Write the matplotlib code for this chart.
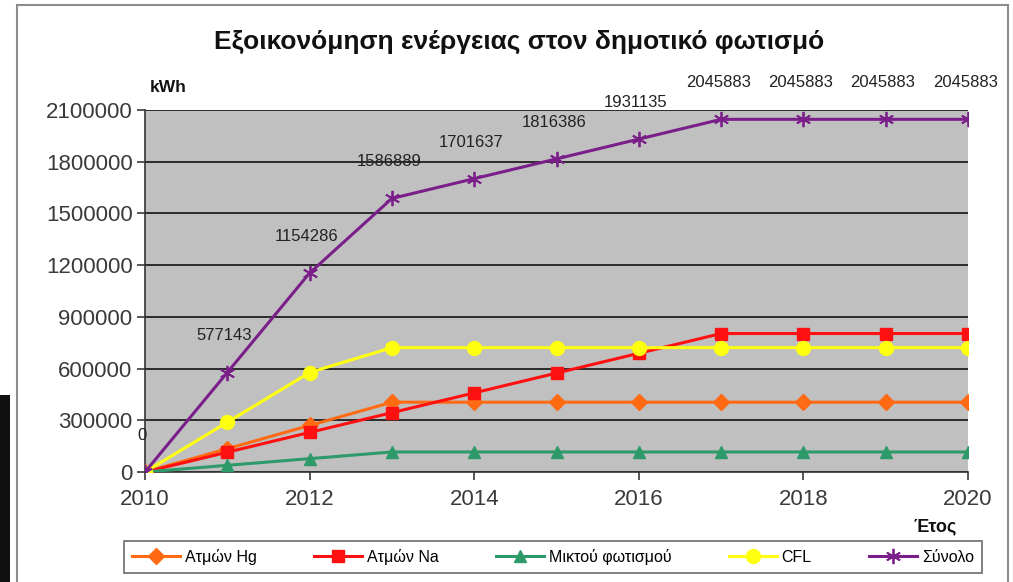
import matplotlib
matplotlib.use("Agg")
import matplotlib.pyplot as plt
from matplotlib.patches import Rectangle

plt.rcParams['font.family'] = ['Liberation Sans', 'DejaVu Sans']

years = [2010, 2011, 2012, 2013, 2014, 2015, 2016, 2017, 2018, 2019, 2020]
hg = [0, 135000, 270000, 405000, 405000, 405000, 405000, 405000, 405000, 405000, 405000]
na = [0, 114749, 229497, 344246, 458995, 573743, 688492, 803240, 803240, 803240, 803240]
mixed = [0, 38700, 77400, 116214, 116214, 116214, 116214, 116214, 116214, 116214, 116214]
cfl = [0, 288571, 577143, 721429, 721429, 721429, 721429, 721429, 721429, 721429, 721429]
total = [0, 577143, 1154286, 1586889, 1701637, 1816386, 1931135, 2045883, 2045883, 2045883, 2045883]
names = ["Ατμών Hg", "Ατμών Na", "Μικτού φωτισμού", "CFL", "Σύνολο"]
yticks = [0, 300000, 600000, 900000, 1200000, 1500000, 1800000, 2100000]
xticks = [2010, 2012, 2014, 2016, 2018, 2020]

fig = plt.figure(figsize=(10.13, 5.82), dpi=100)
fig.patch.set_facecolor('white')

# outer frame and the dark strip on the left
fig.patches.append(Rectangle((17/1013, -0.01), 991/1013, 1 - 5/582 + 0.01, transform=fig.transFigure,
                             fill=False, edgecolor='#8c8c8c', linewidth=1.5))
fig.patches.append(Rectangle((0, 0), 10/1013, 187/582, transform=fig.transFigure,
                             facecolor='#111111', edgecolor='none'))

ax = fig.add_axes([145/1013, 110/582, 823/1013, 362/582])
ax.set_facecolor('#c0c0c0')

ax.plot(years, hg, color='#ff6a13', lw=2.2, marker='D', ms=8, label=names[0], zorder=3)
ax.plot(years, na, color='#ff1010', lw=2.2, marker='s', ms=8.5, label=names[1], zorder=3)
ax.plot(years, mixed, color='#2e9a6a', lw=2.2, marker='^', ms=8.5, label=names[2], zorder=3)
ax.plot(years, cfl, color='#ffff10', lw=2.2, marker='o', ms=10, label=names[3], zorder=3)
ax.plot(years, total, color='#7a1f8a', lw=2.2, marker=(6, 2, 0), ms=11, mew=1.3, label=names[4], zorder=4)

for x, y in zip(years, total):
    ax.annotate(str(y), (x, y), xytext=(-2, 21), textcoords='offset points',
                ha='center', va='bottom', fontsize=12, color='#222222', annotation_clip=False)

ax.set_xlim(2010, 2020)
ax.set_ylim(0, 2100000)
ax.set_xticks(xticks)
ax.set_yticks(yticks)
ax.set_yticklabels([str(v) for v in yticks])
ax.tick_params(axis='both', labelsize=16, colors='#3a3a3a', length=6, width=1.2, direction='out')
ax.tick_params(axis='x', pad=6)
ax.tick_params(axis='y', pad=3)
ax.grid(axis='y', color='#2a2a2a', lw=1.4)
ax.set_axisbelow(True)
for s in ['top', 'right']:
    ax.spines[s].set_visible(False)
for s in ['left', 'bottom']:
    ax.spines[s].set_color('#333333')
    ax.spines[s].set_linewidth(1.2)

fig.text(519/1013, 1 - 42/582, "Εξοικονόμηση ενέργειας στον δημοτικό φωτισμό",
         ha='center', va='center', fontsize=19, fontweight='bold', color='#111111')
fig.text(168/1013, 1 - 88/582, "kWh", ha='center', va='center', fontsize=12.5,
         fontweight='bold', color='#111111')
fig.text(935/1013, 1 - 527/582, "Έτος", ha='center', va='center', fontsize=13,
         fontweight='bold', color='#111111')

leg = fig.legend(loc='center', bbox_to_anchor=(553/1013, 1 - 557/582), ncol=5, fontsize=11.5,
                 frameon=True, fancybox=False, edgecolor='#555555', handlelength=3,
                 columnspacing=3.6, handletextpad=0.3, borderpad=0.5)
leg.get_frame().set_linewidth(1.3)

fig.savefig("out.png", dpi=100)
